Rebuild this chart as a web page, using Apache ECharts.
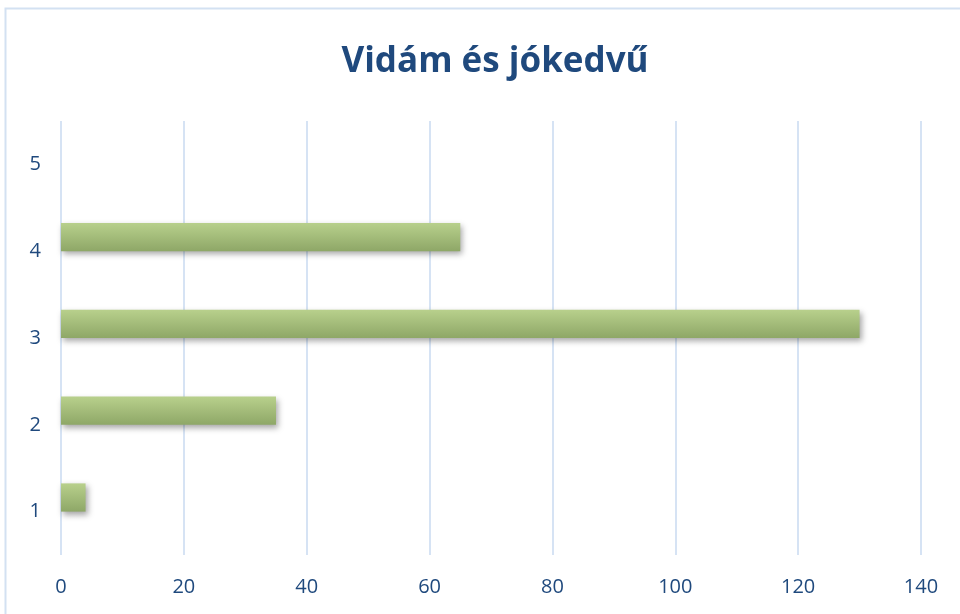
<!DOCTYPE html>
<html>
<head>
<meta charset="utf-8">
<title>Vidám és jókedvű</title>
<script src="https://cdn.jsdelivr.net/npm/echarts@6/dist/echarts.min.js"></script>
<style>
    html, body { margin: 0; padding: 0; background: #ffffff; }
    #chart { width: 960px; height: 614px; }
</style>
</head>
<body>
<div id="chart"></div>
<script>
// Data
const categories = ['1', '2', '3', '4', '5'];
const cheerValues = [4, 35, 130, 65, 0];
const emptyValues = [0, 0, 0, 0, 0];
const xTicks = [0, 20, 40, 60, 80, 100, 120, 140];

const TEXT_BLUE = '#1f497d';
const GRID_BLUE = '#c9daf0';

const chart = echarts.init(document.getElementById('chart'), null, { renderer: 'canvas' });

const option = {
    backgroundColor: '#ffffff',
    animation: false,
    title: {
        text: 'Vidám és jókedvű',
        left: 490,
        top: 40,
        textAlign: 'center',
        textStyle: {
            fontFamily: 'Open Sans',
            fontWeight: 'bold',
            fontSize: 35,
            color: TEXT_BLUE
        }
    },
    graphic: [{
        type: 'rect',
        shape: { x: 5.5, y: 8.5, width: 1000, height: 700 },
        style: { fill: 'none', stroke: '#d3e1f2', lineWidth: 2 },
        silent: true
    }],
    grid: { left: 61, right: 39, top: 121, bottom: 59, containLabel: false },
    xAxis: {
        type: 'value',
        min: xTicks[0],
        max: xTicks[xTicks.length - 1],
        interval: 20,
        axisLine: { show: false },
        axisTick: { show: false },
        axisLabel: {
            color: TEXT_BLUE,
            fontFamily: 'Open Sans',
            fontSize: 20,
            margin: 22
        },
        splitLine: { lineStyle: { color: GRID_BLUE, width: 1.5 } }
    },
    yAxis: {
        type: 'category',
        data: categories,
        axisLine: { show: false },
        axisTick: { show: false },
        axisLabel: {
            color: TEXT_BLUE,
            fontFamily: 'Open Sans',
            fontSize: 20,
            margin: 20
        },
        splitLine: { show: false }
    },
    series: [
        {
            name: 'cheer',
            type: 'bar',
            data: cheerValues,
            barGap: '0%',
            barCategoryGap: '35%',
            itemStyle: {
                color: new echarts.graphic.LinearGradient(0, 0, 0, 1, [
                    { offset: 0, color: '#b8d08c' },
                    { offset: 1, color: '#8ea767' }
                ]),
                shadowColor: 'rgba(0, 0, 0, 0.35)',
                shadowBlur: 6,
                shadowOffsetX: 2,
                shadowOffsetY: 3
            }
        },
        {
            name: 'empty',
            type: 'bar',
            data: emptyValues,
            barGap: '0%',
            barCategoryGap: '35%',
            itemStyle: { color: '#ffffff' },
            silent: true
        }
    ]
};

chart.setOption(option);
</script>
</body>
</html>
